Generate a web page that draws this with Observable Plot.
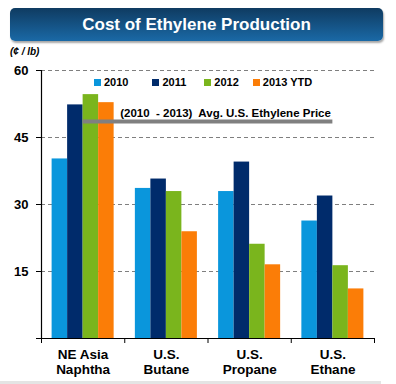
<!DOCTYPE html>
<html><head><meta charset="utf-8">
<script src="https://cdn.jsdelivr.net/npm/d3@7"></script>
<script src="https://cdn.jsdelivr.net/npm/@observablehq/plot@0.6"></script>
<style>
body{margin:0;background:#fff;font-family:"Liberation Sans",Arial,sans-serif;}
#wrap{position:relative;width:396px;height:384px;overflow:hidden;}
#banner{position:absolute;left:10px;top:8px;width:373px;height:33px;border-radius:5px;
background:linear-gradient(#0f3b61,#1a69a6);box-shadow:1px 2px 2px rgba(0,0,0,0.35);
color:#fff;font-weight:bold;font-size:17px;text-align:center;line-height:33px;}
#unit{position:absolute;left:10px;top:46px;font-size:10px;font-weight:bold;font-style:italic;color:#000;}
#legend{position:absolute;left:94px;top:76px;font-size:11px;font-weight:bold;color:#000;display:flex;white-space:nowrap;}
#legend span{display:flex;align-items:center;}
#legend i{display:inline-block;width:7px;height:7px;margin-right:3px;}
#chart{position:absolute;left:0;top:0;}
#bottom{position:absolute;left:0;top:381px;width:381px;height:3px;background:#e4e4e4;}
</style></head>
<body><div id="wrap"><div id="chart"></div><div id="banner"></div><div id="unit"></div><div id="legend"></div><div id="bottom"></div></div>
<script>
const title = "Cost of Ethylene Production";
const unitLabel = "(¢ / lb)";
const categories = ["NE Asia\nNaphtha", "U.S.\nButane", "U.S.\nPropane", "U.S.\nEthane"];
const years = ["2010", "2011", "2012", "2013 YTD"];
const colors = ["#0a96dc", "#002b6b", "#7ab51d", "#fb7d07"];
const v2010 = [40.2, 33.6, 32.9, 26.3];
const v2011 = [52.3, 35.7, 39.5, 31.9];
const v2012 = [54.6, 32.9, 21.1, 16.3];
const v2013 = [52.8, 23.9, 16.5, 11.1];
const yTicks = [15, 30, 45, 60];
const avgPrice = 48.6;
const avgLabel = "(2010  - 2013)  Avg. U.S. Ethylene Price";

document.getElementById("banner").textContent = title;
document.getElementById("unit").textContent = unitLabel;
const leg = document.getElementById("legend");
const gaps = [24, 18, 14, 0];
years.forEach((y, i) => {
  const s = document.createElement("span");
  s.innerHTML = `<i style="background:${colors[i]}"></i>${y}`;
  s.style.marginRight = gaps[i] + "px";
  leg.appendChild(s);
});

const series = [v2010, v2011, v2012, v2013];
const groupW = 0.745, barW = groupW / 4;
const data = [];
categories.forEach((c, i) => series.forEach((s, j) => {
  data.push({cat: i, year: years[j], value: s[i], x1: i - groupW / 2 + j * barW, x2: i - groupW / 2 + (j + 1) * barW});
}));

const chart = Plot.plot({
  width: 396, height: 384,
  marginLeft: 41, marginRight: 22, marginTop: 70, marginBottom: 46,
  style: {fontFamily: "'Liberation Sans', Arial, sans-serif", background: "transparent"},
  x: {type: "linear", domain: [-0.5, categories.length - 0.5]},
  y: {domain: [0, 60]},
  color: {domain: years, range: colors},
  marks: [
    Plot.ruleY(yTicks, {stroke: "#7f7f7f", strokeDasharray: "4,3", strokeWidth: 1}),
    Plot.rectY(data, {x1: "x1", x2: "x2", y: "value", fill: "year"}),
    Plot.ruleY([avgPrice], {x1: 0, x2: categories.length - 1, stroke: "#808080", strokeWidth: 4}),
    Plot.text([avgLabel], {x: categories.length - 1, y: avgPrice, text: d => d, textAnchor: "end", dy: -8, dx: -2, fontWeight: "bold", fontSize: 11.5, fill: "#000"}),
    Plot.axisY({ticks: [0, ...yTicks], tickFormat: d => d === 0 ? "" : d, tickSize: 5, tickPadding: 8, fontSize: 13, fontWeight: "bold", label: null, stroke: "#000", fill: "#000"}),
    Plot.ruleX([-0.5], {stroke: "#000", strokeWidth: 1.2}),
    Plot.ruleY([0], {stroke: "#000", strokeWidth: 1.2}),
    Plot.axisX({ticks: d3.range(-0.5, categories.length), tickFormat: () => "", tickSize: 5, label: null}),
    Plot.axisX({ticks: d3.range(categories.length), tickFormat: i => categories[i], tickSize: 0, tickPadding: 9, fontSize: 13.5, fontWeight: "bold", lineHeight: 1.15, label: null, fill: "#000"})
  ]
});
document.getElementById("chart").appendChild(chart);
</script></body></html>
